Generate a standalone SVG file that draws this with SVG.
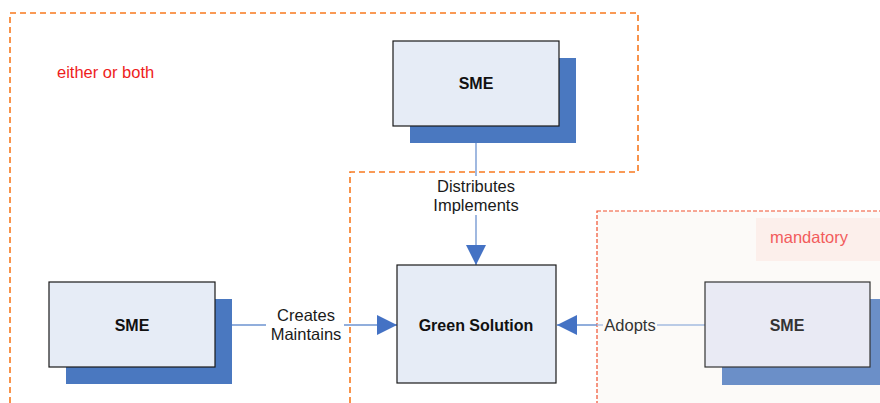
<svg xmlns="http://www.w3.org/2000/svg" width="880" height="403" viewBox="0 0 880 403">
<defs>
<style>
.front{fill:#e6ecf6;stroke:#1a1a1a;stroke-width:1.2}
.shadow{fill:#4a78c0}
.lbl{font-family:"Liberation Sans",Arial,sans-serif;font-size:16.5px;fill:#1a1a1a;text-anchor:middle}
.bold{font-family:"Liberation Sans",Arial,sans-serif;font-size:16px;font-weight:bold;fill:#111;text-anchor:middle}
.conn{stroke:#6d93d0;stroke-width:1.3;fill:none}
</style>
<marker id="arr" viewBox="0 0 10 10" refX="10" refY="5" markerWidth="20" markerHeight="20" markerUnits="userSpaceOnUse" orient="auto">
<path d="M0,0 L10,5 L0,10 Z" fill="#4472c4"/>
</marker>
</defs>
<rect width="880" height="403" fill="#ffffff"/>
<g id="regions">
<path d="M350,403 L350,172 L638,172 L638,13 L10,13 L10,403" fill="none" stroke="#f7791f" stroke-width="1.6" stroke-dasharray="6,4"/>
<text x="57" y="78" font-family="Liberation Sans,Arial,sans-serif" font-size="16.5" fill="#ee1c1c">either or both</text>
<rect x="597" y="211" width="290" height="200" fill="#fcfaf8" stroke="#f0502f" stroke-width="1.2" stroke-dasharray="4,2"/>
<rect x="756" y="218" width="130" height="43" fill="#fcefeb"/>
<text x="770" y="243" font-family="Liberation Sans,Arial,sans-serif" font-size="16.5" fill="#f25c5c">mandatory</text>
</g>
<g id="connectors">
<line class="conn" x1="476" y1="126" x2="476" y2="176"/>
<line class="conn" x1="476" y1="215" x2="476" y2="265" marker-end="url(#arr)"/>
<text class="lbl" x="476" y="192">Distributes</text>
<text class="lbl" x="476" y="211">Implements</text>
<line class="conn" x1="215" y1="325" x2="266" y2="325"/>
<line class="conn" x1="344" y1="325" x2="397" y2="325" marker-end="url(#arr)"/>
<text class="lbl" x="306" y="321">Creates</text>
<text class="lbl" x="306" y="340">Maintains</text>
<line class="conn" x1="597" y1="325" x2="557" y2="325" marker-end="url(#arr)"/>
<line x1="705" y1="325" x2="657" y2="325" stroke="#a4bbe0" stroke-width="1.3"/>
<line x1="603" y1="325" x2="597" y2="325" stroke="#a4bbe0" stroke-width="1.3"/>
<text x="630" y="331" font-family="Liberation Sans,Arial,sans-serif" font-size="16.5" fill="#333" text-anchor="middle">Adopts</text>
</g>
<g id="sme-top">
<rect class="shadow" x="410" y="58" width="166" height="85"/>
<rect class="front" x="393" y="41" width="166" height="85"/>
<text class="bold" x="476" y="89">SME</text>
</g>
<g id="sme-left">
<rect class="shadow" x="66" y="299" width="166" height="85"/>
<rect class="front" x="49" y="282" width="166" height="85"/>
<text class="bold" x="132" y="331">SME</text>
</g>
<g id="green-solution">
<rect class="front" x="397" y="265" width="159" height="118"/>
<text class="bold" x="476" y="331">Green Solution</text>
</g>
<g id="sme-right">
<rect x="722" y="299" width="166" height="86" fill="#6b8fc8"/>
<rect x="705" y="282" width="165" height="85" fill="#e9eaf4" stroke="#333" stroke-width="1.2"/>
<text x="787" y="331" font-family="Liberation Sans,Arial,sans-serif" font-size="16" font-weight="bold" fill="#333" text-anchor="middle">SME</text>
</g>
</svg>
